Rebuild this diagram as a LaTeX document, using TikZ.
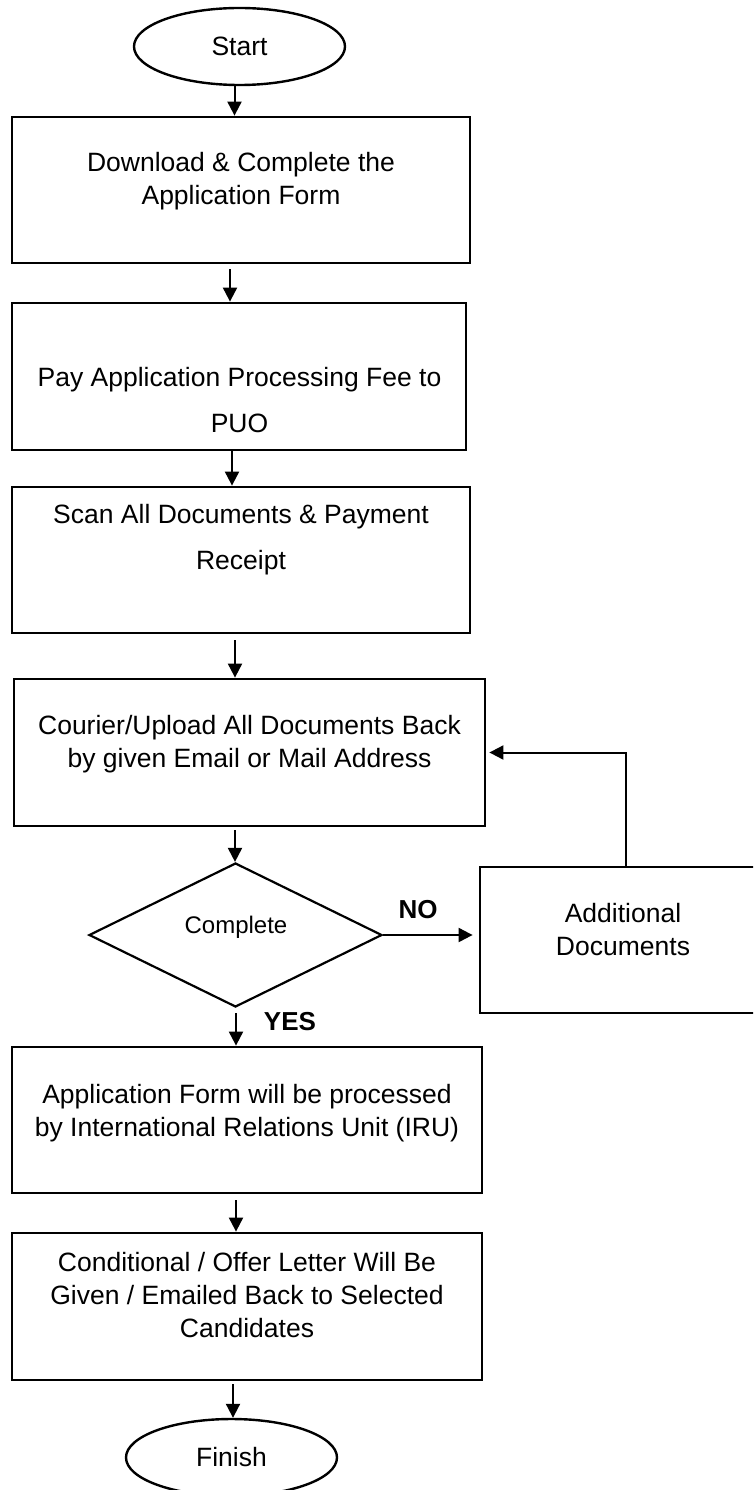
\documentclass[tikz,border=0pt]{standalone}
\usepackage{fontspec}
\setmainfont{Liberation Sans}
\usetikzlibrary{arrows.meta,shapes.geometric,calc}
\tikzset{
  stepbox/.style={draw, line width=2.8pt, inner sep=0pt},
  term/.style={draw, ellipse, line width=2.4pt, inner sep=0pt, minimum width=211pt, minimum height=77pt, font=\fontsize{26.5}{33}\selectfont},
  decis/.style={draw, diamond, line width=2.2pt, inner sep=0pt, minimum width=293pt, minimum height=144pt},
  txt/.style={inner sep=0pt, align=center, font=\fontsize{26.5}{33}\selectfont},
  txtwide/.style={inner sep=0pt, align=center, font=\fontsize{26.5}{46}\selectfont},
  lbl/.style={inner sep=0pt, font=\fontsize{26}{30}\selectfont\bfseries},
  arr/.style={line width=2pt, -{Triangle[width=14pt,length=14pt]}}
}
\begin{document}
\begin{tikzpicture}[x=1pt,y=-1pt]
\useasboundingbox (0,0) rectangle (753,1490);
\fill[white] (0,0) rectangle (753,1490);
\clip (0,0) rectangle (753,1490);

% shapes
\node[term] (start) at (239.5,46.5) {Start};
\node[stepbox, minimum width=458pt, minimum height=146pt] (b1) at (241,190) {};
\node[stepbox, minimum width=454pt, minimum height=147pt] (b2) at (239,376.5) {};
\node[stepbox, minimum width=458pt, minimum height=146pt] (b3) at (241,560) {};
\node[stepbox, minimum width=471pt, minimum height=147pt] (b4) at (249.5,752.5) {};
\node[decis] (dia) at (235.5,935) {};
\node[stepbox, minimum width=285pt, minimum height=146pt] (add) at (622.5,940) {};
\node[stepbox, minimum width=470pt, minimum height=146pt] (b5) at (247,1120) {};
\node[stepbox, minimum width=470pt, minimum height=147pt] (b6) at (247,1306.5) {};
\node[term] (finish) at (231.5,1457.5) {Finish};

% texts
\node[txt] (t1) at (241,181.5) {\strut Download \& Complete the\\\strut Application Form};
\node[txtwide] (t2) at (239.5,400) {\strut Pay Application Processing Fee to\\\strut PUO};
\node[txtwide] (t3) at (241,537) {\strut Scan All Documents \& Payment\\\strut Receipt};
\node[txt] (t4) at (249.5,744.5) {\strut Courier/Upload All Documents Back\\\strut by given Email or Mail Address};
\node[inner sep=0pt, font=\fontsize{24}{28}\selectfont] (tc) at (236,927.5) {Complete};
\node[lbl] (tno) at (418,910) {NO};
\node[lbl] (tyes) at (290,1022) {YES};
\node[txt] (tadd) at (623,932) {\strut Additional\\\strut Documents};
\node[txt] (t5) at (247,1113) {\strut Application Form will be processed\\\strut by International Relations Unit (IRU)};
\node[txt] (t6) at (247,1298) {\strut Conditional / Offer Letter Will Be\\\strut Given / Emailed Back to Selected\\\strut Candidates};

% connectors
\draw[arr] ([xshift=-5pt]start.south) coordinate (a1) -- (a1 |- b1.north);
\draw[arr] ([xshift=-11pt,yshift=-5pt]b1.south) coordinate (a2) -- (a2 |- b2.north);
\draw[arr] ([xshift=-7pt]b2.south) coordinate (a3) -- (a3 |- b3.north);
\draw[arr] ([xshift=-6pt,yshift=-6pt]b3.south) coordinate (a4) -- (a4 |- b4.north);
\draw[arr] ([xshift=-14.5pt,yshift=-3pt]b4.south) coordinate (a5) -- (a5 |- dia.north);
\draw[arr] ([xshift=0.5pt,yshift=-5pt]dia.south) coordinate (a6) -- (a6 |- b5.north);
\draw[arr] ([xshift=-11pt,yshift=-6pt]b5.south) coordinate (a7) -- (a7 |- b6.north);
\draw[arr] ([xshift=-14pt,yshift=-3pt]b6.south) coordinate (a8) -- (a8 |- finish.north);
\coordinate (noend) at ([xshift=-6pt]add.west);
\draw[arr] (dia.east) -- (noend |- dia.east);
\coordinate (fbtop) at ([xshift=3.5pt]add.north);
\coordinate (fbend) at ([xshift=3pt]b4.east);
\draw[arr] (fbtop) |- (fbend);
\end{tikzpicture}
\end{document}
